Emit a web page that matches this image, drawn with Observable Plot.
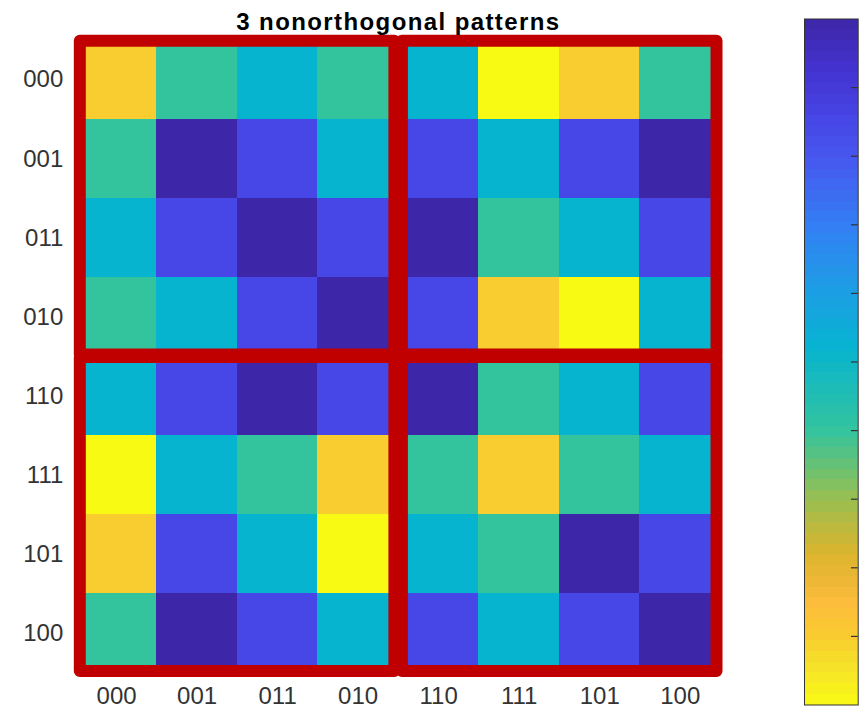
<!DOCTYPE html>
<html>
<head>
<meta charset="utf-8">
<script src="https://cdn.jsdelivr.net/npm/d3@7"></script>
<script src="https://cdn.jsdelivr.net/npm/@observablehq/plot@0.6"></script>
<style>
  html, body { margin: 0; padding: 0; background: #fff; }
  #wrap { position: relative; width: 863px; height: 711px; overflow: hidden; }
  #wrap svg { position: absolute; top: 0; }
</style>
</head>
<body>
<div id="wrap"></div>
<script>
// ---- data ----
const title = "3 nonorthogonal patterns";
const xLabels = ["000", "001", "011", "010", "110", "111", "101", "100"];
const yLabels = ["000", "001", "011", "010", "110", "111", "101", "100"];
// matrix values (row by row, rows in yLabels order)
const row000 = [0.10, 0.40, 0.52, 0.40, 0.52, 0.00, 0.10, 0.40];
const row001 = [0.40, 1.00, 0.85, 0.52, 0.85, 0.52, 0.85, 1.00];
const row011 = [0.52, 0.85, 1.00, 0.85, 1.00, 0.40, 0.52, 0.85];
const row010 = [0.40, 0.52, 0.85, 1.00, 0.85, 0.10, 0.00, 0.52];
const row110 = [0.52, 0.85, 1.00, 0.85, 1.00, 0.40, 0.52, 0.85];
const row111 = [0.00, 0.52, 0.40, 0.10, 0.40, 0.10, 0.40, 0.52];
const row101 = [0.10, 0.85, 0.52, 0.00, 0.52, 0.40, 1.00, 0.85];
const row100 = [0.40, 1.00, 0.85, 0.52, 0.85, 0.52, 0.85, 1.00];
const rows = [row000, row001, row011, row010, row110, row111, row101, row100];
// quadrant boxes (column/row index ranges)
const quadColStart = [0, 4, 0, 4];
const quadColEnd   = [4, 8, 4, 8];
const quadRowStart = [0, 0, 4, 4];
const quadRowEnd   = [4, 4, 8, 8];
// colorbar ticks
const cbTicks = [0.1, 0.2, 0.3, 0.4, 0.5, 0.6, 0.7, 0.8, 0.9];
// parula-like colormap (value -> colour), dark at top of the colorbar
const cmapStops  = [0.00, 0.05, 0.10, 0.15, 0.22, 0.30, 0.40, 0.52, 0.60, 0.70, 0.80, 0.85, 0.92, 1.00];
const cmapColors = ["#f9fa14", "#f6e528", "#f9cc30", "#fcbb3c", "#dcb42e", "#98bf50", "#33c49e",
                    "#07b4d0", "#1c9ee4", "#347ef4", "#4756ee", "#4647e6", "#4434d2", "#3e26a8"];

// ---- build tables ----
const cells = [];
rows.forEach((r, ri) => r.forEach((v, ci) => cells.push({r: ri, c: ci, v})));
const quads = quadColStart.map((c0, i) => ({c0, c1: quadColEnd[i], r0: quadRowStart[i], r1: quadRowEnd[i]}));
const xTickPos = xLabels.map((_, i) => i + 0.5);
const yTickPos = yLabels.map((_, i) => i + 0.5);
// colorbar slices (64 levels, as in the colormap)
const nLevels = 64;
const cbSlices = d3.range(nLevels).map(i => ({lo: i / nLevels, hi: (i + 1) / nLevels, v: (i + 0.5) / nLevels}));

const colorScale = {type: "linear", domain: cmapStops, range: cmapColors, interpolate: "rgb"};
const baseStyle = {background: "transparent", fontFamily: "'Liberation Sans', Arial, sans-serif", color: "#333"};

const main = Plot.plot({
  width: 863, height: 711,
  marginLeft: 75.8, marginRight: 143, marginTop: 39.7, marginBottom: 38.5,
  x: {domain: [0, 8], axis: null},
  y: {domain: [0, 8], reverse: true, axis: null},
  color: colorScale,
  style: baseStyle,
  marks: [
    Plot.rect(cells, {x1: "c", x2: d => d.c + 1, y1: "r", y2: d => d.r + 1, fill: "v", shapeRendering: "crispEdges"}),
    Plot.rect(quads, {x1: "c0", x2: "c1", y1: "r0", y2: "r1", fill: "none", stroke: "#c00000",
      strokeWidth: 12, strokeLinejoin: "round", insetLeft: 4, insetRight: 3.5, insetTop: 1, insetBottom: 1.5}),
    Plot.axisX(xTickPos, {anchor: "bottom", tickSize: 0, tickPadding: 13.5, fontSize: 24,
      tickFormat: d => xLabels[Math.floor(d)]}),
    Plot.axisY(yTickPos, {anchor: "left", tickSize: 0, tickPadding: 13, fontSize: 24,
      tickFormat: d => yLabels[Math.floor(d)]}),
    Plot.text([title], {frameAnchor: "top", dy: -10, lineAnchor: "bottom", fontWeight: "bold",
      fontSize: 24, fill: "#000", className: "chart-title"})
  ]
});
main.style.left = "0px";
d3.select(main).selectAll(".chart-title text").attr("letter-spacing", "1.4px");

const cbar = Plot.plot({
  width: 59, height: 711,
  marginLeft: 0, marginRight: 5.3, marginTop: 18.5, marginBottom: 6.5,
  x: {domain: [0, 1], axis: null},
  y: {domain: [0, 1], axis: null},
  color: colorScale,
  style: baseStyle,
  marks: [
    Plot.rect(cbSlices, {x1: 0, x2: 1, y1: "lo", y2: "hi", fill: "v", shapeRendering: "crispEdges"}),
    Plot.tickY(cbTicks, {y: d => d, stroke: "#333", strokeWidth: 1.2, insetLeft: 47}),
    Plot.frame({stroke: "#333"})
  ]
});
cbar.style.left = "804px";

const wrap = document.getElementById("wrap");
wrap.appendChild(main);
wrap.appendChild(cbar);
</script>
</body>
</html>
